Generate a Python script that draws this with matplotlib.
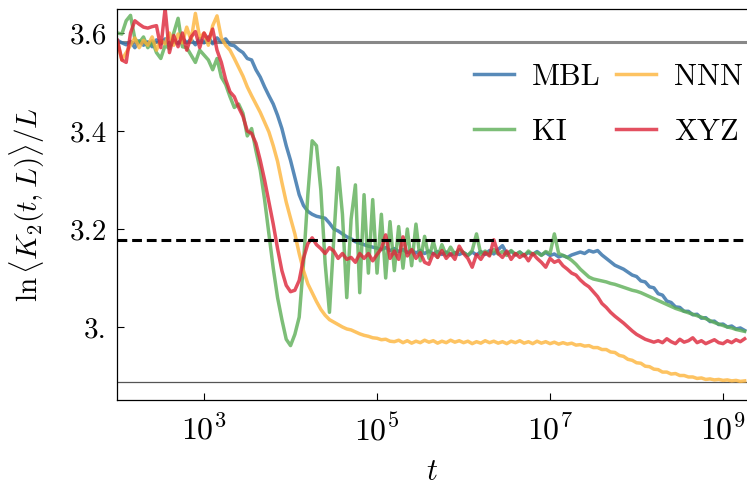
import numpy as np
import matplotlib
matplotlib.use("Agg")
import matplotlib.pyplot as plt
from matplotlib.ticker import NullLocator

plt.rcParams['font.family'] = 'serif'
plt.rcParams['font.serif'] = ['cmr10']
plt.rcParams['mathtext.fontset'] = 'cm'
plt.rcParams['axes.formatter.use_mathtext'] = True

# sample times, log10(t) from 2.00 to 9.25 in steps of 0.05
log_t = np.round(np.arange(2.0, 9.26, 0.05), 2)
t = 10.0 ** log_t

mbl = [3.585, 3.580, 3.576, 3.583, 3.570, 3.584, 3.575, 3.582, 3.572, 3.586, 3.578, 3.588, 3.574, 3.585, 3.578, 3.590, 3.580, 3.587, 3.576, 3.589,
       3.580, 3.592, 3.578, 3.590, 3.582, 3.588, 3.576, 3.574, 3.566, 3.560, 3.548, 3.545, 3.525, 3.510, 3.490, 3.472, 3.455, 3.432, 3.405, 3.370,
       3.340, 3.305, 3.270, 3.248, 3.236, 3.230, 3.226, 3.224, 3.222, 3.212, 3.200, 3.196, 3.190, 3.184, 3.180, 3.174, 3.171, 3.168, 3.165, 3.163,
       3.161, 3.158, 3.162, 3.156, 3.160, 3.154, 3.158, 3.152, 3.157, 3.151, 3.156, 3.150, 3.155, 3.149, 3.154, 3.148, 3.153, 3.147, 3.152, 3.148,
       3.152, 3.146, 3.153, 3.147, 3.154, 3.148, 3.156, 3.149, 3.158, 3.166, 3.150, 3.155, 3.147, 3.153, 3.146, 3.152, 3.148, 3.154, 3.147, 3.152,
       3.146, 3.149, 3.143, 3.146, 3.142, 3.147, 3.150, 3.153, 3.150, 3.156, 3.153, 3.156, 3.147, 3.140, 3.133, 3.126, 3.122, 3.118, 3.112, 3.106,
       3.103, 3.094, 3.092, 3.082, 3.080, 3.068, 3.065, 3.053, 3.050, 3.041, 3.040, 3.032, 3.032, 3.025, 3.026, 3.018, 3.019, 3.011, 3.012, 3.005,
       3.006, 3.000, 3.002, 2.996, 2.998, 2.993]

ki = [3.600, 3.598, 3.625, 3.636, 3.588, 3.580, 3.592, 3.570, 3.584, 3.560, 3.548, 3.575, 3.568, 3.600, 3.630, 3.572, 3.570, 3.555, 3.540, 3.565,
      3.555, 3.545, 3.525, 3.548, 3.510, 3.495, 3.470, 3.448, 3.455, 3.436, 3.390, 3.405, 3.360, 3.320, 3.260, 3.190, 3.120, 3.060, 3.015, 2.975,
      2.962, 2.985, 3.020, 3.130, 3.270, 3.380, 3.370, 3.280, 3.130, 3.030, 3.180, 3.325, 3.230, 3.060, 3.220, 3.290, 3.070, 3.270, 3.110, 3.260,
      3.110, 3.230, 3.100, 3.215, 3.115, 3.205, 3.120, 3.200, 3.125, 3.210, 3.135, 3.185, 3.140, 3.175, 3.142, 3.168, 3.146, 3.163, 3.148, 3.158,
      3.152, 3.146, 3.156, 3.190, 3.148, 3.155, 3.147, 3.158, 3.149, 3.154, 3.146, 3.156, 3.148, 3.153, 3.145, 3.155, 3.148, 3.152, 3.146, 3.154,
      3.150, 3.190, 3.150, 3.146, 3.142, 3.136, 3.128, 3.118, 3.110, 3.102, 3.098, 3.096, 3.094, 3.092, 3.089, 3.087, 3.084, 3.081, 3.078, 3.075,
      3.073, 3.070, 3.066, 3.062, 3.058, 3.054, 3.050, 3.046, 3.042, 3.038, 3.035, 3.032, 3.029, 3.026, 3.023, 3.020, 3.017, 3.013, 3.009, 3.006,
      3.003, 3.000, 2.998, 2.995, 2.993, 2.991]

nnn = [3.580, 3.545, 3.560, 3.575, 3.590, 3.570, 3.585, 3.575, 3.592, 3.565, 3.585, 3.578, 3.600, 3.575, 3.598, 3.580, 3.612, 3.585, 3.640, 3.590,
       3.600, 3.575, 3.615, 3.635, 3.590, 3.575, 3.565, 3.548, 3.530, 3.512, 3.490, 3.472, 3.455, 3.438, 3.418, 3.398, 3.370, 3.338, 3.295, 3.255,
       3.222, 3.190, 3.150, 3.115, 3.088, 3.070, 3.052, 3.036, 3.024, 3.015, 3.010, 3.005, 3.000, 2.996, 2.994, 2.990, 2.986, 2.983, 2.981, 2.978,
       2.977, 2.974, 2.975, 2.971, 2.970, 2.973, 2.968, 2.972, 2.967, 2.971, 2.968, 2.973, 2.969, 2.972, 2.967, 2.971, 2.968, 2.973, 2.969, 2.972,
       2.968, 2.971, 2.966, 2.970, 2.967, 2.972, 2.968, 2.971, 2.967, 2.970, 2.966, 2.971, 2.968, 2.972, 2.967, 2.970, 2.966, 2.971, 2.967, 2.970,
       2.966, 2.969, 2.965, 2.968, 2.965, 2.967, 2.963, 2.964, 2.961, 2.962, 2.958, 2.958, 2.954, 2.954, 2.949, 2.948, 2.942, 2.940, 2.934, 2.932,
       2.927, 2.926, 2.920, 2.919, 2.914, 2.913, 2.908, 2.908, 2.904, 2.905, 2.901, 2.901, 2.898, 2.898, 2.895, 2.896, 2.893, 2.894, 2.892, 2.893,
       2.891, 2.892, 2.890, 2.891, 2.889, 2.890]

xyz = [3.585, 3.545, 3.540, 3.600, 3.625, 3.618, 3.612, 3.610, 3.613, 3.615, 3.570, 3.650, 3.560, 3.595, 3.572, 3.600, 3.565, 3.592, 3.603, 3.570,
       3.600, 3.585, 3.608, 3.565, 3.540, 3.505, 3.480, 3.470, 3.448, 3.430, 3.400, 3.395, 3.375, 3.340, 3.300, 3.255, 3.210, 3.160, 3.115, 3.085,
       3.072, 3.075, 3.095, 3.140, 3.170, 3.182, 3.168, 3.160, 3.150, 3.162, 3.155, 3.140, 3.150, 3.138, 3.142, 3.132, 3.150, 3.140, 3.150, 3.135,
       3.148, 3.160, 3.188, 3.140, 3.155, 3.138, 3.184, 3.145, 3.158, 3.140, 3.152, 3.132, 3.128, 3.150, 3.142, 3.156, 3.140, 3.150, 3.138, 3.165,
       3.150, 3.140, 3.122, 3.148, 3.138, 3.152, 3.145, 3.178, 3.150, 3.142, 3.155, 3.138, 3.150, 3.142, 3.148, 3.135, 3.150, 3.140, 3.132, 3.122,
       3.140, 3.132, 3.136, 3.125, 3.118, 3.110, 3.106, 3.096, 3.088, 3.082, 3.072, 3.062, 3.048, 3.040, 3.030, 3.022, 3.015, 3.008, 3.000, 2.992,
       2.985, 2.980, 2.975, 2.972, 2.969, 2.972, 2.968, 2.976, 2.970, 2.966, 2.975, 2.969, 2.972, 2.978, 2.968, 2.972, 2.966, 2.970, 2.974, 2.968,
       2.966, 2.972, 2.968, 2.974, 2.970, 2.976]

series = [("MBL", mbl, "#2e6da7"), ("KI", ki, "#5cae56"),
          ("NNN", nnn, "#fdb43b"), ("XYZ", xyz, "#dd2438")]

level_top = 3.582   # grey reference line
level_mid = 3.178   # dashed reference line
level_low = 2.888   # thin reference line

fig = plt.figure(figsize=(7.47, 4.95), dpi=100)
ax = fig.add_axes([116.5 / 747, 1 - 400 / 495, 1 - 116.5 / 747, 391 / 495])

ax.axhline(level_top, color="#888888", lw=2.2, zorder=1)
ax.axhline(level_low, color="#555555", lw=0.9, zorder=1)

for name, y, c in series:
    ax.plot(t, y, color=c, lw=2.5, alpha=0.8, label=name, zorder=2)

ax.axhline(level_mid, color="black", lw=2.2, dashes=(3.2, 1.6), zorder=3)

ax.set_xscale("log")
ax.set_xlim(10 ** 1.988, 10 ** 9.277)
ax.set_ylim(2.851, 3.649)
ax.set_xticks([1e3, 1e5, 1e7, 1e9])
ax.xaxis.set_minor_locator(NullLocator())
ax.set_yticks([3.0, 3.2, 3.4, 3.6])
ax.set_yticklabels(["3.", "3.2", "3.4", "3.6"])
ax.tick_params(direction="in", length=4.8, width=0.8)
ax.tick_params(axis="y", labelsize=21, pad=7)
ax.tick_params(axis="x", labelsize=23, pad=10)
ax.spines["right"].set_visible(False)
for s in ["left", "bottom", "top"]:
    ax.spines[s].set_linewidth(0.9)

ax.set_xlabel(r"$t$", fontsize=22)
ax.set_ylabel(r"$\ln\langle K_2(t,L)\rangle/L$", fontsize=21)
ax.xaxis.set_label_coords(0.5, -0.15)
ax.yaxis.set_label_coords(-0.11, 0.5)

ax.legend(ncol=2, frameon=False, fontsize=22, handlelength=1.3,
          handletextpad=0.6, columnspacing=0.5, labelspacing=0.9,
          loc="upper left", bbox_to_anchor=(0.567, 0.86),
          borderaxespad=0, borderpad=0)

fig.savefig("out.png", dpi=100)
